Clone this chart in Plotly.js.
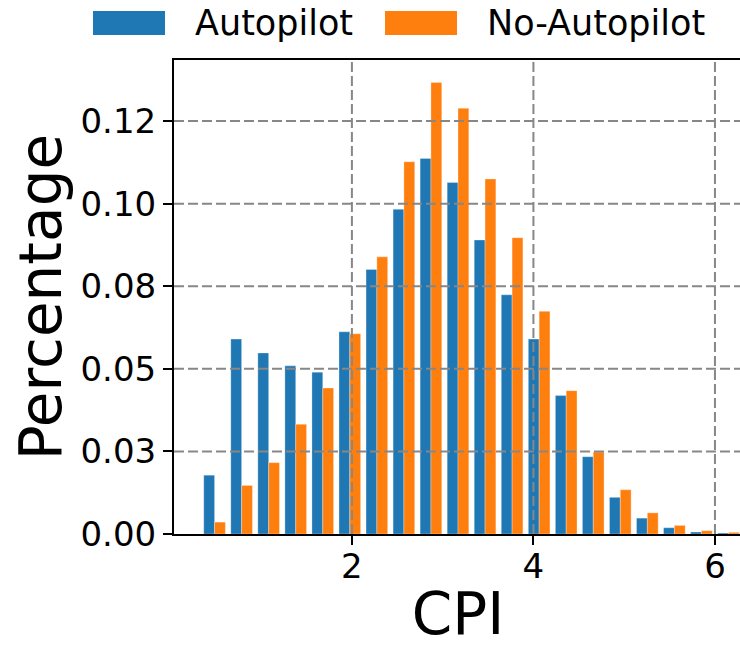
<!DOCTYPE html>
<html><head><meta charset="utf-8">
<script src="https://cdn.plot.ly/plotly-3.0.1.min.js"></script>
<style>html,body{margin:0;padding:0;overflow:hidden;background:#fff}</style>
</head><body><div id="chart"></div>
<script>
// ---- data ----
const binCenters = [0.487,0.785,1.083,1.381,1.679,1.977,2.275,2.573,2.871,3.169,3.467,3.765,4.063,4.361,4.659,4.957,5.255,5.553,5.851,6.149];
const autopilot = [0.0178,0.0590,0.0548,0.0509,0.0490,0.0612,0.0801,0.0983,0.1137,0.1064,0.0890,0.0724,0.0590,0.0419,0.0234,0.0111,0.0048,0.0019,0.0006,0.0003];
const noAutopilot = [0.0036,0.0147,0.0216,0.0332,0.0442,0.0606,0.0839,0.1127,0.1367,0.1289,0.1075,0.0897,0.0674,0.0434,0.0248,0.0134,0.0064,0.0026,0.0010,0.0005];
const seriesNames = ["Autopilot","No-Autopilot"];
const yTickVals = [0,0.025,0.05,0.075,0.1,0.125];
const yTickText = ["0.00","0.03","0.05","0.08","0.10","0.12"];
const xTickVals = [2,4,6];
const xTickText = ["2","4","6"];

// ---- style / geometry ----
const W = 744, H = 648;
const M = {l:174, r:2, t:60, b:114};
const colors = ["#1f77b4","#ff7f0e"];
const FONT = "DejaVu Sans, sans-serif";
const plotW = W - M.l - M.r, plotH = H - M.t - M.b;
const pxX = px => (px - M.l) / plotW;
const pxY = py => (H - M.b - py) / plotH;

const traces = [
  {type:"bar", name:seriesNames[0], x:binCenters, y:autopilot,
   marker:{color:colors[0], line:{color:"rgba(255,255,255,0.6)", width:0.5}}, showlegend:false},
  {type:"bar", name:seriesNames[1], x:binCenters, y:noAutopilot,
   marker:{color:colors[1], line:{color:"rgba(255,255,255,0.6)", width:0.5}}, showlegend:false}
];

const gridLine = {color:"#878787", width:2, dash:"10px,4px"};
const shapes = [];
yTickVals.filter(v => v > 0).forEach(v => shapes.push({type:"line", layer:"above", xref:"paper", x0:0, x1:1, yref:"y", y0:v, y1:v, line:gridLine}));
xTickVals.forEach(v => shapes.push({type:"line", layer:"above", xref:"x", x0:v, x1:v, yref:"paper", y0:0, y1:1, line:gridLine}));

// legend (drawn manually to match wide patches)
const legendItems = [
  {px0:93, px1:165, tx:193},
  {px0:385, px1:457, tx:485}
];
const annotations = [];
legendItems.forEach((it, i) => {
  shapes.push({type:"rect", layer:"above", xref:"paper", yref:"paper",
    x0:pxX(it.px0), x1:pxX(it.px1), y0:pxY(35), y1:pxY(11),
    fillcolor:colors[i], line:{width:0}});
  annotations.push({xref:"paper", yref:"paper", x:pxX(it.tx), y:pxY(23),
    xanchor:"left", yanchor:"middle", showarrow:false, text:seriesNames[i],
    font:{family:FONT, size:35, color:"#000"}});
});

const axisCommon = {
  showline:true, linecolor:"#000", linewidth:2, mirror:true,
  ticks:"outside", ticklen:9, tickwidth:2, tickcolor:"#000",
  showgrid:false, zeroline:false, tickfont:{family:FONT, size:34, color:"#000"}
};

const layout = {
  width:W, height:H, margin:M, paper_bgcolor:"#fff", plot_bgcolor:"#fff",
  font:{family:FONT, color:"#000"},
  barmode:"group", bargap:0.2, bargroupgap:0,
  xaxis:Object.assign({}, axisCommon, {range:[0.04, 6.298], tickmode:"array", tickvals:xTickVals, ticktext:xTickText,
    ticklabelstandoff:-8, title:{text:"CPI", font:{family:FONT, size:58, color:"#000"}, standoff:24}}),
  yaxis:Object.assign({}, axisCommon, {range:[0, 0.1435], tickmode:"array", tickvals:yTickVals, ticktext:yTickText,
    ticklabelstandoff:0, title:{text:"Percentage", font:{family:FONT, size:58, color:"#000"}, standoff:0}}),
  shapes:shapes, annotations:annotations, showlegend:false
};

Plotly.newPlot("chart", traces, layout, {staticPlot:true, displayModeBar:false});
</script>
</body></html>
